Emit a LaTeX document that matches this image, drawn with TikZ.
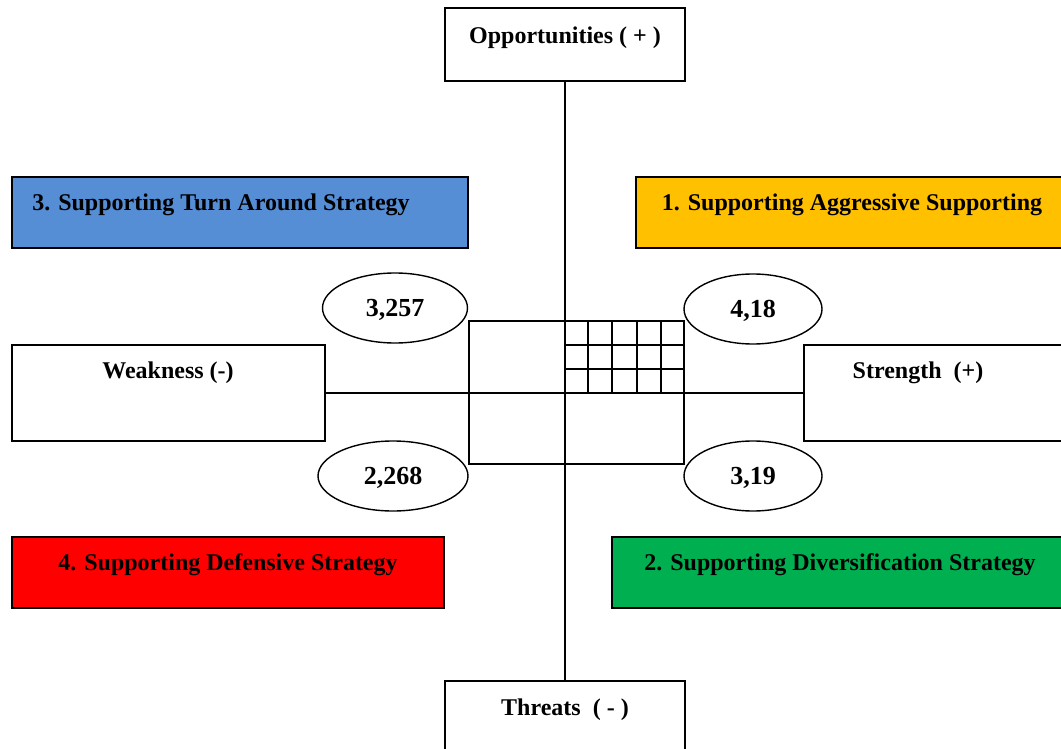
\documentclass[tikz,border=0pt]{standalone}
\usepackage{fontspec}
\setmainfont{Liberation Serif}
\usetikzlibrary{shapes.geometric}
\definecolor{cblue}{HTML}{558ED5}
\definecolor{corange}{HTML}{FFC000}
\definecolor{cred}{HTML}{FF0000}
\definecolor{cgreen}{HTML}{00B050}
\begin{document}
\begin{tikzpicture}[x=1pt,y=-1pt,
  box/.style={draw=black,line width=1.4pt,rectangle,inner sep=0pt},
  lab/.style={font=\bfseries\fontsize{24}{26}\selectfont,inner sep=0pt},
  oval/.style={draw=black,line width=1.4pt,ellipse,inner sep=0pt,text depth=0pt,font=\bfseries\fontsize{26}{28}\selectfont},
  axis/.style={line width=1.6pt},
  gridline/.style={line width=2.2pt}]
\useasboundingbox (0,0) rectangle (1061,749);
\clip (0,0) rectangle (1061,749);
% axis boxes
\node[box,minimum width=240pt,minimum height=73pt] (opp) at (565,44.5) {};
\node[lab] (opptxt) at (565,38) {Opportunities ( + )};
\node[box,minimum width=240pt,minimum height=90pt] (thr) at (565,726) {};
\node[lab] (thrtxt) at (565,710) {Threats \ ( - )};
\node[box,minimum width=313pt,minimum height=96pt] (weak) at (168.5,393) {};
\node[lab] (weaktxt) at (168,373) {Weakness (-)};
\node[box,minimum width=270pt,minimum height=96pt] (str) at (939,393) {};
\node[lab] (strtxt) at (918,373) {Strength \ (+)};
% strategy boxes
\node[box,fill=cblue,minimum width=456pt,minimum height=71pt] (s3) at (240,212.5) {};
\node[lab] (s3t) at (221,205) {3. Supporting Turn Around Strategy};
\node[box,fill=corange,minimum width=440pt,minimum height=71pt] (s1) at (856,212.5) {};
\node[lab] (s1t) at (852,205) {1. Supporting Aggressive Supporting};
\node[box,fill=cred,minimum width=432pt,minimum height=71pt] (s4) at (228,572.5) {};
\node[lab] (s4t) at (228,565) {4. Supporting Defensive Strategy};
\node[box,fill=cgreen,minimum width=464pt,minimum height=71pt] (s2) at (844,572.5) {};
\node[lab] (s2t) at (840,565) {2. Supporting Diversification Strategy};
% axes
\draw[axis] (opp.south) -- (thr.north);
\draw[axis] (weak.east) -- (str.west);
% central rectangle
\draw[axis] (469,321) rectangle (684,464);
% grid in upper right quadrant
\foreach \x in {588,612,637,661} \draw[gridline] (\x,321) -- (\x,393);
\foreach \y in {345,369} \draw[axis] (565,\y) -- (684,\y);
% ovals
\node[oval,minimum width=145pt,minimum height=70pt] (e1) at (395,308) {3,257};
\node[oval,minimum width=150pt,minimum height=70pt] (e2) at (393,476) {2,268};
\node[oval,minimum width=138pt,minimum height=70pt] (e3) at (753,309) {4,18};
\node[oval,minimum width=138pt,minimum height=70pt] (e4) at (753,476) {3,19};
\end{tikzpicture}
\end{document}
